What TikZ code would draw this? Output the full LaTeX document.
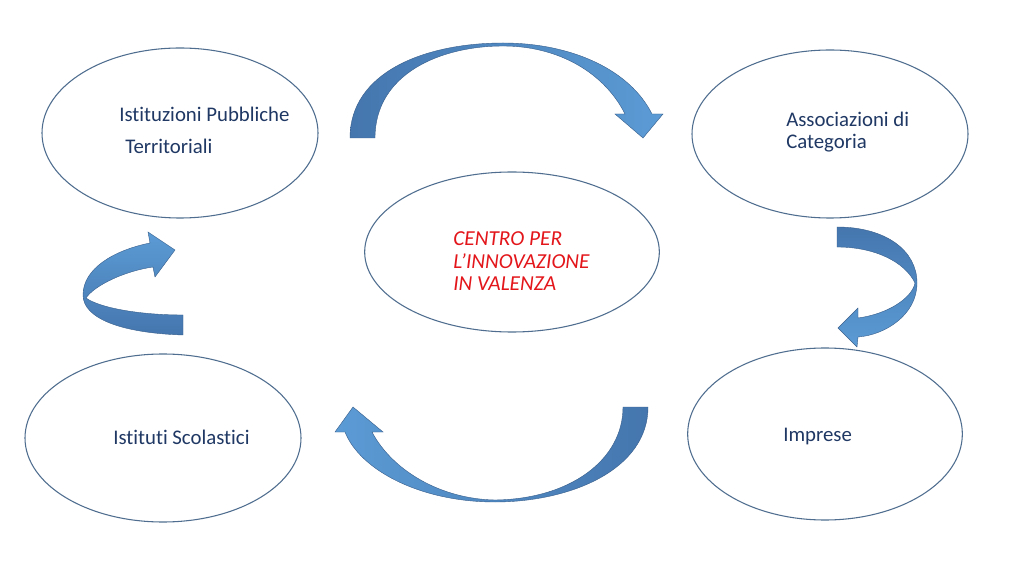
\documentclass[tikz,border=0pt]{standalone}
\usepackage{fontspec}
\setmainfont{Carlito}[Ligatures=NoCommon]
\usetikzlibrary{shapes.geometric}
\definecolor{navy}{HTML}{1F3864}
\definecolor{ered}{HTML}{E3161B}
\definecolor{edge}{HTML}{4F6E8F}
\definecolor{adark}{HTML}{4576AE}
\definecolor{alight}{HTML}{5B9BD5}
\tikzset{
  oval/.style={ellipse, draw=edge, line width=0.8pt, fill=white, inner sep=0pt},
  lbl/.style={anchor=west, inner sep=0pt, text=navy, font=\fontsize{15.6}{19}\selectfont},
  rlbl/.style={anchor=west, inner sep=0pt, text=ered, font=\fontsize{16}{19}\selectfont\itshape},
  band/.style={draw=adark!80!black, line width=0.3pt}
}
\begin{document}
\begin{tikzpicture}[x=0.75pt,y=-0.75pt]
\useasboundingbox (0,0) rectangle (1024,566);
\fill[white] (0,0) rectangle (1024,566);
% ellipses
\node[oval, minimum width=207pt, minimum height=127.5pt] (tl) at (180,133) {};
\node[oval, minimum width=207pt, minimum height=126pt] (tr) at (830,134) {};
\node[oval, minimum width=221pt, minimum height=120pt] (cc) at (512,252) {};
\node[oval, minimum width=207pt, minimum height=126pt] (bl) at (163,438) {};
\node[oval, minimum width=206pt, minimum height=129pt] (br) at (825,434) {};
% labels
\node[lbl] (tl1) at (119,114) {Istituzioni Pubbliche};
\node[lbl] (tl2) at (125,146) {Territoriali};
\node[lbl] (tr1) at (786,119) {Associazioni di};
\node[lbl] (tr2) at (786,143) {Categoria};
\node[rlbl] (c1) at (453,239) {CENTRO PER};
\node[rlbl] (c2) at (453,261) {L’INNOVAZIONE};
\node[rlbl] (c3) at (453,284) {IN VALENZA};
\node[lbl] (bl1) at (113,437) {Istituti Scolastici};
\node[lbl] (br1) at (783,437) {Imprese};
% top arrow
\shade[band, left color=adark, right color=alight]
 (350,138) .. controls (350,72) and (425,43) .. (503,43)
 .. controls (572,43) and (630,70) .. (652,114) -- (663,114) -- (643,138) -- (615,114) -- (625,114)
 .. controls (605,74) and (560,46) .. (503,46)
 .. controls (440,46) and (375,74) .. (375,138) -- cycle;
% right arrow
\shade[band, top color=adark, bottom color=alight]
 (837,227) .. controls (885,227) and (917,250) .. (917,283)
 .. controls (917,315) and (885,335) .. (858,337) -- (857,347) -- (838,328) -- (858,308) -- (858,318)
 .. controls (888,314) and (912,298) .. (915,283)
 .. controls (905,262) and (875,247) .. (837,247) -- cycle;
% bottom arrow
\shade[band, left color=alight, right color=adark]
 (648,407) .. controls (648,470) and (570,502) .. (495,502)
 .. controls (420,502) and (360,470) .. (345,432) -- (335,432) -- (353,407) -- (383,432) -- (372,432)
 .. controls (392,470) and (440,499) .. (495,500)
 .. controls (570,499) and (623,460) .. (623,407) -- cycle;
% left arrow
\shade[band, top color=alight, bottom color=adark]
 (183,335) .. controls (120,333) and (83,318) .. (83,295)
 .. controls (83,268) and (115,250) .. (150,243) -- (148,232) -- (175,250) -- (155,277) -- (153,267)
 .. controls (125,271) and (95,285) .. (86,298)
 .. controls (100,308) and (140,315) .. (183,315) -- cycle;
\end{tikzpicture}
\end{document}
